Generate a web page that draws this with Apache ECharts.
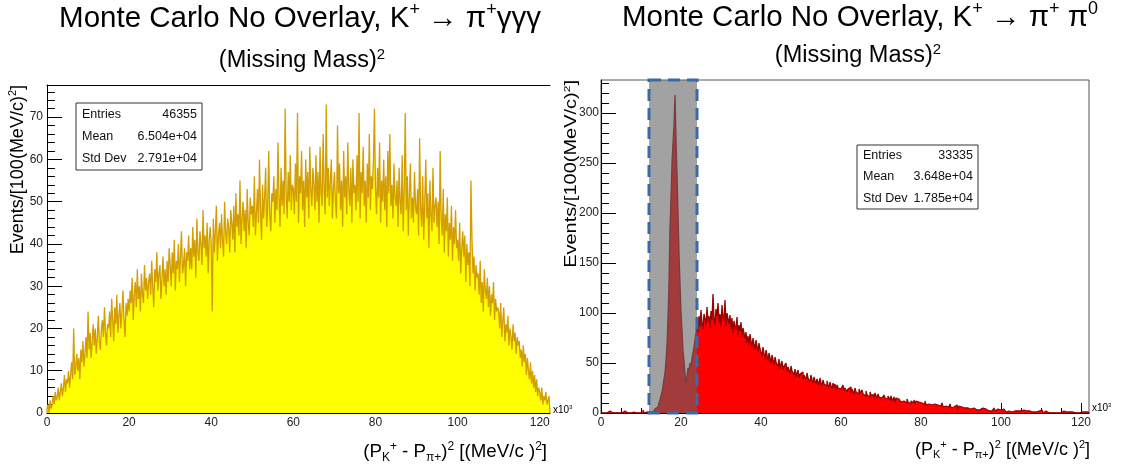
<!DOCTYPE html>
<html>
<head>
<meta charset="utf-8">
<title>Monte Carlo No Overlay</title>
<script src="https://cdn.jsdelivr.net/npm/echarts@6.0.0/dist/echarts.min.js"></script>
<style>
html, body { margin: 0; padding: 0; background: #fff; }
#chart { width: 1127px; height: 471px; }
</style>
</head>
<body>
<div id="chart"></div>
<script>
// histogram bins, x in units of 10^3 (MeV/c)^2
var binWidth = 0.25

// K+ -> pi+ gamma gamma gamma, 0 .. 122.5 (20 bins per row = 5 units)
var gammaCounts = [
    1, 2, 0, 3, 1, 2, 4, 2, 5, 3, 4, 6, 3, 5, 7, 4, 6, 9, 5, 8,
    7, 10, 6, 9, 12, 8, 20, 9, 11, 14, 10, 13, 8, 15, 12, 17, 11, 14, 18, 13,
    24, 15, 19, 13, 17, 21, 16, 20, 14, 18, 23, 17, 15, 20, 22, 18, 25, 19, 16, 21,
    20, 24, 18, 27, 22, 17, 25, 21, 28, 19, 23, 26, 20, 24, 29, 22, 18, 26, 23, 27,
    24, 29, 26, 32, 22, 28, 31, 25, 34, 27, 30, 24, 33, 28, 26, 35, 29, 32, 27, 31,
    33, 28, 36, 30, 25, 34, 31, 38, 29, 33, 35, 27, 32, 37, 30, 34, 28, 36, 31, 39,
    35, 30, 38, 33, 41, 29, 36, 34, 40, 31, 37, 43, 33, 35, 39, 30, 38, 36, 42, 34,
    39, 34, 44, 37, 41, 32, 46, 38, 36, 43, 40, 35, 48, 39, 42, 37, 45, 33, 41, 44,
    40, 24, 46, 38, 43, 49, 36, 42, 45, 39, 47, 41, 37, 50, 43, 40, 46, 44, 38, 48,
    45, 41, 49, 38, 52, 44, 47, 42, 55, 40, 46, 50, 43, 48, 39, 53, 45, 42, 51, 47,
    49, 44, 56, 42, 47, 53, 45, 60, 48, 41, 54, 46, 51, 58, 44, 49, 62, 47, 43, 52,
    50, 56, 45, 53, 48, 64, 51, 44, 58, 49, 55, 47, 72, 52, 46, 57, 50, 61, 48, 54,
    53, 47, 59, 50, 71, 45, 56, 52, 62, 48, 55, 44, 60, 51, 57, 46, 63, 53, 49, 58,
    54, 48, 61, 50, 57, 45, 63, 52, 49, 66, 53, 47, 73, 51, 58, 49, 55, 60, 46, 53,
    57, 50, 46, 68, 52, 59, 48, 55, 44, 62, 51, 56, 47, 64, 53, 49, 58, 45, 60, 52,
    54, 48, 61, 50, 71, 46, 57, 52, 63, 49, 55, 45, 59, 51, 66, 48, 56, 53, 60, 72,
    53, 47, 58, 51, 64, 45, 55, 50, 60, 48, 56, 44, 62, 52, 66, 49, 54, 46, 59, 51,
    49, 55, 44, 58, 50, 47, 61, 43, 53, 71, 48, 56, 42, 52, 59, 46, 51, 45, 57, 49,
    47, 53, 42, 65, 48, 44, 56, 41, 50, 60, 46, 52, 39, 55, 47, 43, 58, 45, 49, 51,
    44, 50, 40, 62, 46, 42, 53, 38, 47, 43, 51, 37, 45, 41, 49, 36, 44, 40, 48, 39,
    41, 36, 45, 33, 39, 43, 37, 42, 31, 40, 35, 38, 30, 55, 41, 33, 37, 29, 35, 32,
    33, 28, 36, 26, 31, 24, 34, 29, 27, 32, 25, 30, 23, 28, 26, 31, 22, 27, 24, 25,
    24, 20, 26, 18, 22, 25, 17, 21, 19, 23, 16, 20, 18, 15, 21, 17, 19, 14, 18, 16,
    17, 13, 15, 11, 16, 12, 14, 9, 13, 10, 8, 12, 7, 10, 6, 9, 5, 8, 4, 6,
    5, 3, 6, 2, 4, 3, 5, 2, 3, 4
]

// K+ -> pi+ pi0, 0 .. 122 (16 bins per row = 4 units)
var pi0Counts = [
    0, 0, 0, 1, 0, 0, 0, 0, 2, 0, 0, 0, 0, 1, 0, 0,
    0, 0, 1, 0, 0, 0, 0, 2, 0, 0, 0, 1, 0, 0, 0, 0,
    1, 0, 0, 0, 2, 0, 0, 1, 0, 0, 3, 0, 0, 1, 0, 1,
    1, 0, 2, 1, 3, 2, 4, 5, 6, 8, 10, 13, 17, 21, 27, 34,
    40, 52, 68, 95, 130, 185, 215, 250, 270, 288, 318, 275, 240, 200, 160, 130,
    100, 83, 62, 52, 40, 30, 36, 45, 42, 50, 47, 55, 60, 66, 73, 80,
    92, 81, 97, 86, 103, 90, 84, 99, 94, 88, 106, 91, 97, 85, 102, 93,
    119, 95, 88, 104, 97, 110, 90, 99, 86, 108, 96, 92, 113, 87, 100, 94,
    89, 98, 84, 95, 80, 92, 87, 83, 96, 78, 88, 82, 91, 76, 85, 80,
    74, 81, 70, 77, 68, 79, 72, 66, 75, 69, 63, 73, 67, 61, 70, 64,
    62, 57, 66, 59, 54, 63, 58, 52, 60, 55, 50, 58, 53, 48, 56, 51,
    50, 46, 54, 44, 49, 52, 43, 47, 45, 50, 41, 46, 43, 39, 47, 42,
    41, 38, 44, 36, 40, 43, 35, 39, 37, 41, 34, 38, 36, 33, 40, 35,
    35, 31, 38, 33, 30, 36, 32, 29, 34, 31, 28, 35, 30, 27, 33, 29,
    30, 27, 32, 28, 25, 31, 27, 24, 30, 26, 29, 23, 28, 25, 27, 24,
    26, 23, 28, 22, 25, 27, 21, 24, 23, 26, 20, 24, 22, 19, 25, 21,
    22, 19, 24, 20, 18, 23, 19, 21, 17, 22, 18, 20, 16, 21, 18, 19,
    18, 15, 20, 17, 14, 19, 16, 18, 15, 17, 13, 18, 15, 16, 14, 17,
    15, 13, 17, 12, 14, 16, 11, 15, 13, 14, 12, 15, 11, 13, 12, 14,
    12, 10, 14, 11, 13, 9, 12, 11, 10, 13, 9, 12, 10, 11, 9, 12,
    10, 8, 11, 9, 12, 8, 10, 9, 7, 11, 8, 10, 7, 9, 8, 10,
    8, 6, 9, 7, 8, 10, 6, 8, 7, 5, 8, 6, 7, 9, 5, 7,
    6, 7, 5, 8, 6, 4, 7, 5, 6, 4, 7, 5, 6, 3, 5, 6,
    5, 4, 6, 3, 5, 4, 6, 3, 4, 5, 3, 4, 2, 5, 3, 4,
    4, 3, 5, 2, 4, 3, 2, 4, 3, 5, 2, 3, 4, 2, 3, 3,
    3, 2, 4, 2, 3, 1, 3, 2, 4, 2, 1, 3, 2, 2, 3, 1,
    2, 3, 1, 2, 2, 1, 3, 2, 1, 2, 3, 1, 2, 1, 2, 1,
    2, 1, 1, 2, 0, 2, 1, 1, 3, 1, 0, 1, 2, 1, 1, 0,
    1, 2, 0, 1, 1, 0, 2, 1, 0, 1, 1, 0, 1, 0, 2, 1,
    0, 1, 1, 0, 1, 0, 0, 1, 0, 2, 0, 1, 0, 0, 1, 0,
    1, 0, 0, 1, 0, 0, 1, 0
]

var xMajor = [0, 20, 40, 60, 80, 100, 120]
var yMajorGamma = [0, 10, 20, 30, 40, 50, 60, 70]
var yMajorPi0 = [0, 50, 100, 150, 200, 250, 300]
var cutWindow = [12, 24]

var gammaStats = [['Entries', '46355'], ['Mean', '6.504e+04'], ['Std Dev', '2.791e+04']]
var pi0Stats = [['Entries', '33335'], ['Mean', '3.648e+04'], ['Std Dev', '1.785e+04']]

var gammaXMax = 122.5, gammaYMax = 77.6
var pi0XMax = 122, pi0YMax = 333

var F = 'Liberation Sans, Arial, Helvetica, sans-serif'

function minorTicks(step, max, major) {
    var out = []
    for (var v = 0; v <= max + 1e-9; v += step) {
        if (major.indexOf(v) < 0) out.push(v)
    }
    return out
}

function histPoints(vals) {
    var pts = [[0, 0]]
    vals.forEach(function (v, i) { pts.push([i * binWidth, v]) })
    var end = vals.length * binWidth
    pts.push([end, vals[vals.length - 1]])
    pts.push([end, 0])
    return pts
}

function mainX(grid, max) {
    return {
        type: 'value', gridIndex: grid, min: 0, max: max, position: 'bottom',
        axisLine: { show: true, lineStyle: { color: '#000', width: 1 } },
        axisTick: { show: true, inside: true, length: 10, customValues: xMajor, lineStyle: { color: '#000' } },
        axisLabel: { show: true, customValues: xMajor, margin: 4, color: '#222', fontSize: 12, fontFamily: F },
        splitLine: { show: false }
    }
}
function minorX(grid, max) {
    return {
        type: 'value', gridIndex: grid, min: 0, max: max, position: 'bottom',
        axisLine: { show: false },
        axisTick: { show: true, inside: true, length: 5, customValues: minorTicks(5, 120, xMajor), lineStyle: { color: '#000' } },
        axisLabel: { show: false },
        splitLine: { show: false }
    }
}
function mainY(grid, max, major, margin) {
    return {
        type: 'value', gridIndex: grid, min: 0, max: max, position: 'left',
        axisLine: { show: true, lineStyle: { color: '#000', width: 1 } },
        axisTick: { show: true, inside: true, length: 15, customValues: major, lineStyle: { color: '#000' } },
        axisLabel: { show: true, customValues: major, margin: margin, color: '#222', fontSize: 12, fontFamily: F },
        splitLine: { show: false }
    }
}
function minorY(grid, max, step, major) {
    return {
        type: 'value', gridIndex: grid, min: 0, max: max, position: 'left',
        axisLine: { show: false },
        axisTick: { show: true, inside: true, length: 8, customValues: minorTicks(step, max, major), lineStyle: { color: '#000' } },
        axisLabel: { show: false },
        splitLine: { show: false }
    }
}

function statsBox(x, y, w, h, rows) {
    var children = [{
        type: 'rect', shape: { x: x, y: y, width: w, height: h },
        style: { fill: '#fff', stroke: '#333', lineWidth: 1 }
    }]
    var rowH = h / rows.length
    rows.forEach(function (r, i) {
        var ty = y + rowH * (i + 0.5)
        children.push({ type: 'text', x: x + 6, y: ty, style: { text: r[0], fill: '#111', font: '12.5px ' + F, align: 'left', verticalAlign: 'middle' } })
        children.push({ type: 'text', x: x + w - 5, y: ty, style: { text: r[1], fill: '#111', font: '12.5px ' + F, align: 'right', verticalAlign: 'middle' } })
    })
    return { type: 'group', children: children }
}

function richText(x, y, text, size, align, rotation, squeeze) {
    var sub = Math.round(size * 0.62)
    return {
        type: 'text', x: x, y: y, rotation: rotation || 0, scaleY: squeeze || 1,
        style: {
            text: text, align: align, verticalAlign: 'middle',
            rich: {
                a: { fontSize: size, fontFamily: F, fill: '#000', lineHeight: size * 1.2 },
                s: { fontSize: sub, fontFamily: F, fill: '#000', verticalAlign: 'top', lineHeight: size * 1.2 },
                d: { fontSize: sub, fontFamily: F, fill: '#000', verticalAlign: 'bottom', lineHeight: size * 1.05 }
            }
        }
    }
}

var titleGamma = '{a|Monte Carlo No Overlay, K}{s|+}{a| → π}{s|+}{a|γγγ}'
var titlePi0 = '{a|Monte Carlo No Overlay, K}{s|+}{a| → π}{s|+}{a| π}{s|0}'
var subTitle = '{a|(Missing Mass)}{s|2}'
var xTitle = '{a|(P}{d|K}{s|+}{a| - P}{d|π+}{a|)}{s|2}{a| [(MeV/c )}{s|2}{a|]}'
var yTitle = '{a|Events/[100(MeV/c)}{s|2}{a|]}'
var xScale = '{a|x10}{s|3}'

var chart = echarts.init(document.getElementById('chart'))
chart.setOption({
    animation: false,
    grid: [
        { left: 47, top: 85, width: 503, height: 328 },
        { left: 601, top: 80, width: 488, height: 333, show: true, borderColor: '#555', borderWidth: 1 }
    ],
    xAxis: [
        mainX(0, gammaXMax),
        minorX(0, gammaXMax),
        { type: 'value', gridIndex: 0, min: 0, max: gammaXMax, position: 'top',
          axisLine: { show: true, lineStyle: { color: '#000' } }, axisTick: { show: false }, axisLabel: { show: false }, splitLine: { show: false } },
        mainX(1, pi0XMax),
        minorX(1, pi0XMax)
    ],
    yAxis: [
        mainY(0, gammaYMax, yMajorGamma, 4),
        minorY(0, gammaYMax, 2, yMajorGamma),
        mainY(1, pi0YMax, yMajorPi0, 2),
        minorY(1, pi0YMax, 10, yMajorPi0)
    ],
    series: [
        {
            type: 'line', xAxisIndex: 0, yAxisIndex: 0, step: 'end', symbol: 'none', silent: true,
            data: histPoints(gammaCounts),
            lineStyle: { color: '#d39e00', width: 1.3 },
            areaStyle: { color: '#ffff00', opacity: 1 }
        },
        {
            type: 'line', xAxisIndex: 3, yAxisIndex: 2, step: 'end', symbol: 'none', silent: true,
            data: histPoints(pi0Counts),
            lineStyle: { color: '#990000', width: 1.3 },
            areaStyle: { color: '#ff0000', opacity: 1 }
        },
        {
            type: 'custom', xAxisIndex: 3, yAxisIndex: 2, z: 10, silent: true,
            data: [cutWindow],
            renderItem: function (params, api) {
                var p0 = api.coord([api.value(0), pi0YMax])
                var p1 = api.coord([api.value(1), 0])
                var shape = { x: p0[0], y: p0[1], width: p1[0] - p0[0], height: p1[1] - p0[1] }
                return {
                    type: 'group', children: [
                        { type: 'rect', shape: shape, style: { fill: 'rgba(100,100,100,0.6)' } },
                        { type: 'rect', shape: shape, style: { fill: 'none', stroke: '#3a6aa8', lineWidth: 3, lineDash: [12, 7] } }
                    ]
                }
            }
        }
    ],
    graphic: [
        richText(300, 19, titleGamma, 29.5, 'center'),
        richText(860, 18, titlePi0, 29.5, 'center'),
        richText(302, 61, subTitle, 23.5, 'center'),
        richText(858, 56, subTitle, 23.5, 'center'),
        richText(547, 452, xTitle, 18.7, 'right'),
        richText(1090, 450, xTitle, 18, 'right'),
        richText(18, 85, yTitle, 18, 'right', Math.PI / 2),
        richText(572, 80, yTitle, 20, 'right', Math.PI / 2, 0.78),
        richText(553, 410, xScale, 10, 'left'),
        richText(1092, 408, xScale, 10, 'left'),
        statsBox(76, 103, 126, 67, gammaStats),
        statsBox(857, 145, 121, 64, pi0Stats)
    ]
})
window.onresize = function () { chart.resize() }
</script>
</body>
</html>
